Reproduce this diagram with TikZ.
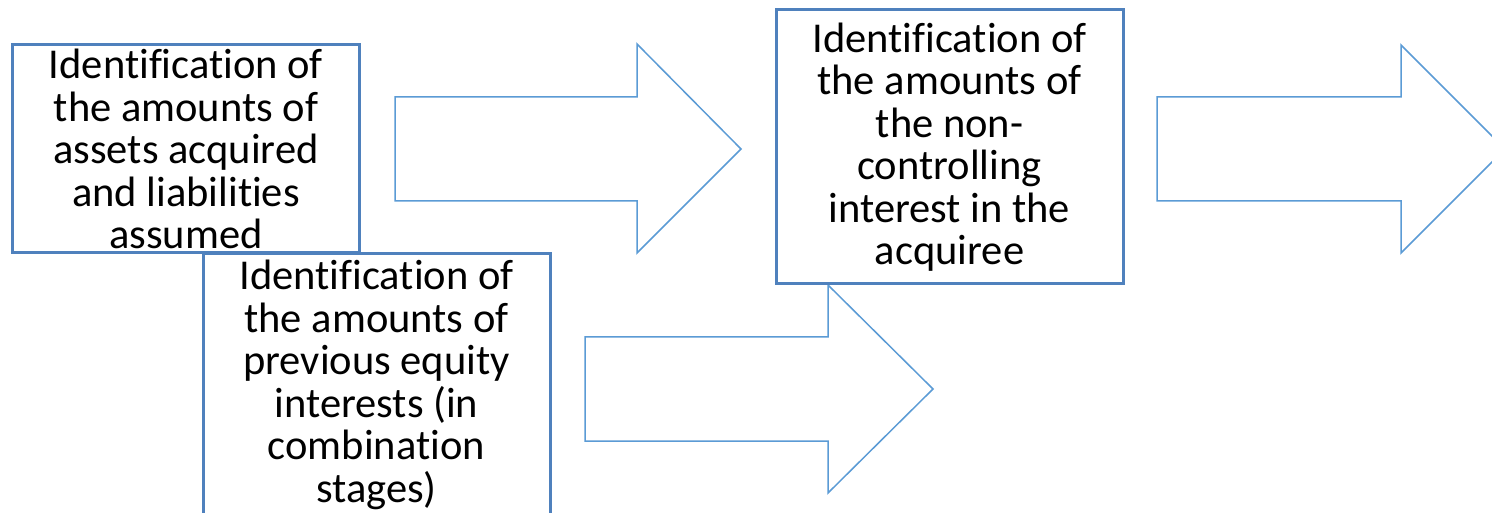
\documentclass[tikz,border=0pt]{standalone}
\usepackage{fontspec}
\setmainfont[Ligatures=CommonOff]{Carlito}
\definecolor{boxblue}{HTML}{4F81BD}
\definecolor{arrowblue}{HTML}{5B9BD5}

\begin{document}
\begin{tikzpicture}[x=1pt,y=1pt,
  stagebox/.style={draw=boxblue,line width=3pt,fill=white,align=center,
    inner sep=0pt,minimum width=347pt,font=\fontsize{42.5}{42.5}\selectfont},
  blockarrow/.style={draw=arrowblue,line width=1.5pt,fill=white}]
\useasboundingbox (0,0) rectangle (1492,512);
\clip (0,0) rectangle (1492,512);

\node[stagebox,minimum height=208pt] (assets) at (186,363)
  {Identification of\\the amounts of\\assets acquired\\and liabilities\\assumed};
\node[stagebox,minimum height=262pt] (previous) at (376.5,127)
  {Identification of\\the amounts of\\previous equity\\interests (in\\combination\\stages)};

\draw[blockarrow] (395,415) -- (637,415) -- (637,468) -- (741,363)
  -- (637,259) -- (637,311) -- (395,311) -- cycle;
\draw[blockarrow] (585,175) -- (828,175) -- (828,227) -- (933,123)
  -- (828,19) -- (828,71) -- (585,71) -- cycle;
\draw[blockarrow] (1157,415) -- (1401,415) -- (1401,467) -- (1505,363)
  -- (1401,259) -- (1401,311) -- (1157,311) -- cycle;

\node[stagebox,minimum height=274pt] (noncontrolling) at (949.5,365)
  {Identification of\\the amounts of\\the non-\\controlling\\interest in the\\acquiree};
\end{tikzpicture}
\end{document}
